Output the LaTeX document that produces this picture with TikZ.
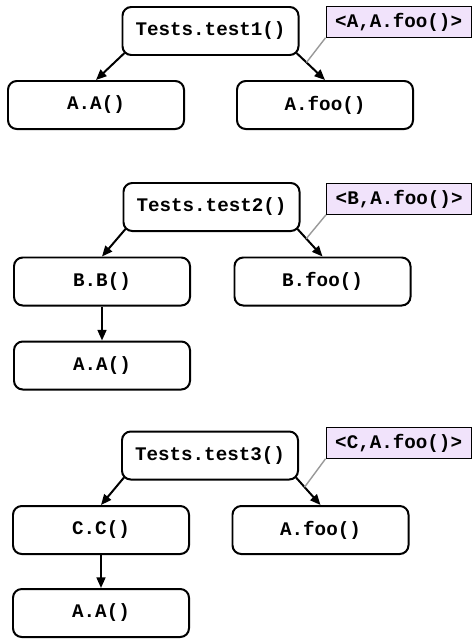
\documentclass[tikz,border=0pt]{standalone}
\usepackage{fontspec}
\setmonofont{Liberation Mono}
\usetikzlibrary{arrows.meta, positioning}

\definecolor{tagfill}{HTML}{F1E3FB}

\begin{document}
\begin{tikzpicture}[
    x=0.03cm, y=-0.03cm,
    font=\ttfamily\bfseries\fontsize{16.4}{18}\selectfont,
    method/.style={draw=black, line width=1.7pt, rounded corners=7.5pt, minimum width=5.28cm, minimum height=1.44cm, align=center},
    tag/.style={draw=black, fill=tagfill, line width=0.8pt, minimum width=4.36cm, minimum height=0.92cm, anchor=west},
    call/.style={-{Triangle[length=9pt, width=7.5pt]}, line width=1.7pt},
    tagline/.style={draw=gray!80, line width=1.2pt}
]

\useasboundingbox (0,0) rectangle (472,639);

% 1. test1: constructor and direct call
\node[method] (t1) at (210.5,31) {Tests.test1()};
\node[method] (a1) at (96,105) {A.A()};
\node[method] (f1) at (325,105) {A.foo()};
\node[tag] (n1) at (325.5,22) {<A,A.foo()>};

\draw[call] ([shift={(3,-3)}]t1.south west) -- (a1.north);
\draw[call] ([shift={(-3,-3)}]t1.south east) -- coordinate[pos=0.35] (e1) (f1.north);
\draw[tagline] (n1.south west) -- (e1);

% 2. test2: subclass B, inherited constructor chain
\node[method] (t2) at (211.5,207) {Tests.test2()};
\node[method] (b2) at (102,281.5) {B.B()};
\node[method] (g2) at (322.5,281.5) {B.foo()};
\node[method] (a2) at (102,365.5) {A.A()};
\node[tag] (n2) at (326,199) {<B,A.foo()>};

\draw[call] ([shift={(3,-3)}]t2.south west) -- (b2.north);
\draw[call] ([shift={(-3,-3)}]t2.south east) -- coordinate[pos=0.35] (e2) (g2.north);
\draw[call] (b2) -- (a2);
\draw[tagline] (n2.south west) -- (e2);

% 3. test3: subclass C
\node[method] (t3) at (210,455.5) {Tests.test3()};
\node[method] (c3) at (101,530) {C.C()};
\node[method] (f3) at (320.5,530) {A.foo()};
\node[method] (a3) at (101,613) {A.A()};
\node[tag] (n3) at (325.5,443) {<C,A.foo()>};

\draw[call] ([shift={(3,-3)}]t3.south west) -- (c3.north);
\draw[call] ([shift={(-3,-3)}]t3.south east) -- coordinate[pos=0.35] (e3) (f3.north);
\draw[call] (c3) -- (a3);
\draw[tagline] (n3.south west) -- (e3);

\end{tikzpicture}
\end{document}
